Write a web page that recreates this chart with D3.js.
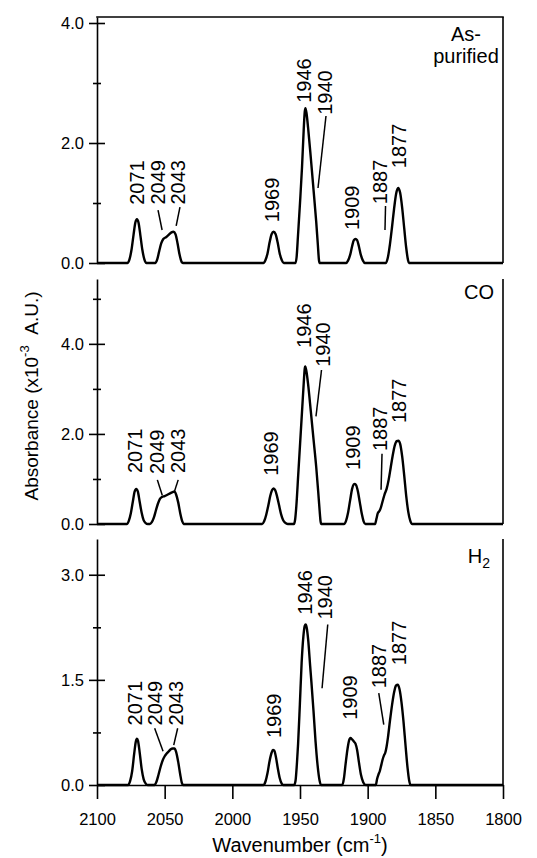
<!DOCTYPE html>
<html><head><meta charset="utf-8">
<script src="https://cdn.jsdelivr.net/npm/d3@7"></script>
<style>
body{margin:0;background:#fff}
svg{display:block}
text{font-family:"Liberation Sans",Arial,Helvetica,sans-serif;fill:#000}
</style>
</head><body>
<svg id="chart" width="537" height="858"></svg>
<script>
// ---------------- DATA ----------------
const wavenumberTicks = [2100, 2050, 2000, 1950, 1900, 1850, 1800];
const wavenumberDomain = [2100, 1800];

const panelNames = ["As-purified", "CO", "H2"];
const yDomainMax = [4.1, 5.44, 3.51];
const yMajorTicks = [[0, 2, 4], [0, 2, 4], [0, 1.5, 3]];
const yMinorTicks = [[1, 3], [1, 3, 5], [0.75, 2.25]];

// spectra: [wavenumber (cm-1), absorbance (x10^-3 A.U.)]
const spectrumAsPurified = [
  [2100,0],[2077.5,0],[2076,0.06],[2074.5,0.22],[2073,0.47],[2071.7,0.67],[2070.5,0.73],[2069.3,0.67],[2068,0.47],[2066.5,0.22],[2065,0.06],[2063.5,0],
  [2057,0],[2055.5,0.06],[2054,0.2],[2052.5,0.33],[2051,0.4],[2049,0.43],[2047,0.47],[2045,0.51],[2043.5,0.52],[2042,0.48],[2040.5,0.33],[2039,0.14],[2037.5,0.02],[2036.5,0],
  [1977,0],[1975.5,0.05],[1974,0.16],[1972.5,0.34],[1971,0.48],[1969.5,0.52],[1968,0.48],[1966.5,0.34],[1965,0.16],[1963.5,0.05],[1962,0],
  [1953.3,0],[1952.5,0.1],[1951.5,0.45],[1950,1.0],[1948.5,1.6],[1947.3,2.2],[1946.5,2.52],[1946,2.58],[1945.2,2.5],[1944,2.25],[1942,1.75],[1940,1.22],[1938,0.68],[1936.8,0.3],[1936,0.05],[1935.5,0],
  [1916,0],[1914.5,0.04],[1913,0.13],[1911.5,0.28],[1910.2,0.38],[1909,0.4],[1907.8,0.38],[1906.5,0.28],[1905,0.13],[1903.5,0.04],[1902,0],
  [1886.5,0],[1885,0.1],[1883.5,0.32],[1882,0.6],[1880.5,0.9],[1879,1.15],[1877.5,1.25],[1876,1.17],[1874.5,0.92],[1873,0.58],[1871.5,0.25],[1870.2,0.05],[1869.5,0],
  [1800,0]
];
const spectrumCO = [
  [2100,0],[2078,0],[2076.5,0.07],[2075,0.24],[2073.5,0.5],[2072.2,0.72],[2071,0.78],[2069.8,0.72],[2068.5,0.5],[2067,0.25],[2065.5,0.08],[2064,0.02],[2062.5,0],[2061,0],
  [2059.5,0.04],[2058,0.14],[2056.5,0.3],[2055,0.45],[2053.5,0.56],[2052,0.6],[2050,0.62],[2048,0.65],[2046,0.68],[2044,0.71],[2042.8,0.72],[2041.5,0.65],[2040,0.48],[2038.5,0.24],[2037,0.06],[2036,0],
  [1978,0],[1976.5,0.06],[1975,0.2],[1973.5,0.4],[1972,0.62],[1970.7,0.75],[1969.5,0.79],[1968.3,0.75],[1967,0.62],[1965.5,0.42],[1964,0.22],[1962.5,0.09],[1961,0.03],[1959,0],
  [1954.5,0],[1953.6,0.1],[1952.7,0.4],[1951.3,1.1],[1949.8,1.85],[1948.3,2.6],[1947.2,3.15],[1946.5,3.45],[1946.1,3.5],[1945.2,3.38],[1944,3.1],[1942,2.5],[1940,1.88],[1938,1.26],[1936.5,0.7],[1935.5,0.3],[1934.8,0.06],[1934.3,0],
  [1917.5,0],[1916,0.07],[1914.5,0.25],[1913,0.52],[1911.5,0.78],[1910.3,0.88],[1909.5,0.89],[1908.5,0.86],[1907.2,0.72],[1905.8,0.48],[1904.3,0.22],[1903,0.06],[1901.7,0],
  [1894.5,0],[1893.5,0.12],[1892.5,0.24],[1891.5,0.28],[1890.5,0.34],[1889,0.5],[1887.5,0.66],[1886,0.78],[1884.5,0.98],[1883,1.25],[1881.5,1.52],[1880,1.74],[1878.5,1.84],[1877.3,1.85],[1876,1.78],[1874.5,1.5],[1873,1.08],[1871.5,0.62],[1870,0.27],[1868.5,0.07],[1867,0],
  [1800,0]
];
const spectrumH2 = [
  [2100,0],[2077,0],[2075.5,0.06],[2074,0.2],[2072.5,0.45],[2071.3,0.62],[2070.5,0.66],[2069.7,0.63],[2068.5,0.47],[2067,0.23],[2065.5,0.08],[2064,0.02],[2062.5,0],
  [2057.5,0],[2056,0.05],[2054.5,0.15],[2053,0.26],[2051.5,0.35],[2050,0.41],[2048.5,0.45],[2047,0.48],[2045.5,0.51],[2044,0.52],[2042.8,0.52],[2041.5,0.47],[2040,0.33],[2038.5,0.15],[2037.3,0.03],[2036.5,0],
  [1977,0],[1975.5,0.05],[1974,0.17],[1972.5,0.34],[1971,0.46],[1970,0.5],[1969,0.49],[1967.8,0.4],[1966.5,0.25],[1965,0.1],[1963.5,0.02],[1962.5,0],
  [1954.3,0],[1953.3,0.06],[1952.3,0.3],[1951.4,0.59],[1950.1,1.15],[1948.8,1.74],[1947.5,2.12],[1946.5,2.27],[1945.8,2.29],[1945,2.24],[1944,2.08],[1942.5,1.7],[1941.5,1.45],[1940,1.05],[1938.5,0.62],[1937,0.28],[1935.5,0.06],[1934.5,0],
  [1918.7,0],[1917.5,0.1],[1916.3,0.3],[1915,0.5],[1913.8,0.63],[1912.7,0.67],[1911.5,0.65],[1910.2,0.62],[1909,0.59],[1907.8,0.5],[1906.5,0.33],[1905,0.15],[1903.3,0.04],[1901.5,0],
  [1894,0],[1893,0.09],[1892,0.15],[1891,0.2],[1890,0.28],[1889,0.36],[1888,0.42],[1887,0.46],[1886,0.55],[1885,0.68],[1883.5,0.92],[1882,1.14],[1880.5,1.32],[1879,1.42],[1877.8,1.43],[1876.5,1.37],[1875,1.18],[1873.5,0.9],[1872,0.56],[1870.5,0.24],[1869.3,0.06],[1868.3,0],
  [1800,0]
];

// peak labels: [text, wavenumber, absorbance at text start]
const labelsAsPurified = [["2071",2070.8,0.97],["2049",2055.2,0.975],["2043",2040.2,0.975],["1969",1970.7,0.68],["1946",1947,2.67],["1940",1931.5,2.47],["1909",1911.3,0.55],["1887",1890.9,0.98],["1877",1876.5,1.58]];
const labelsCO = [["2071",2071.6,1.13],["2049",2055.3,1.11],["2043",2040.1,1.13],["1969",1971.4,1.07],["1946",1947,3.91],["1940",1933.3,3.49],["1909",1911.1,1.2],["1887",1890.9,1.62],["1877",1876.8,2.24]];
const labelsH2 = [["2071",2071.6,0.85],["2049",2056.9,0.85],["2043",2041.8,0.85],["1969",1969.4,0.67],["1946",1946.3,2.43],["1940",1931.3,2.36],["1909",1913,0.93],["1887",1891.3,1.38],["1877",1877,1.71]];

// leader lines: [w1, a1, w2, a2]
const leadersAsPurified = [[2054.9,0.88,2051.9,0.55],[2038.7,0.93,2041.5,0.62],[1930.8,2.45,1936.7,1.25],[1886.8,0.95,1887.2,0.55]];
const leadersCO = [[2055.4,0.98,2051.8,0.64],[2040,0.98,2042.7,0.73],[1934.1,3.42,1938.2,2.39],[1889.4,1.56,1890.1,0.76]];
const leadersH2 = [[2057.4,0.81,2051.2,0.48],[2040.4,0.81,2043.3,0.57],[1929.5,2.29,1933.7,1.38],[1891.8,1.31,1888.1,0.86]];

const spectra = [spectrumAsPurified, spectrumCO, spectrumH2];
const labels = [labelsAsPurified, labelsCO, labelsH2];
const leaders = [leadersAsPurified, leadersCO, leadersH2];

// ---------------- LAYOUT ----------------
const X0 = 97, X1 = 503;
const panelBox = [[17, 263], [279, 524], [539, 785]]; // [top, baseline]
const svg = d3.select("#chart");
const x = d3.scaleLinear().domain(wavenumberDomain).range([X0, X1]);
const fmt = d3.format(".1f");
const AX = 1.6;

function styleAxis(g, fs) {
  g.attr("font-family", null).attr("font-size", null);
  g.selectAll("line,path").attr("stroke", "#000").attr("stroke-width", AX);
  g.selectAll("text").style("font-size", fs + "px").attr("fill", "#000");
}

panelBox.forEach((box, i) => {
  const y = d3.scaleLinear().domain([0, yDomainMax[i]]).range([box[1], box[0]]);

  // left axis major
  const gl = svg.append("g").attr("transform", `translate(${X0},0)`)
    .call(d3.axisLeft(y).tickValues(yMajorTicks[i]).tickSize(8).tickSizeOuter(0).tickPadding(5).tickFormat(fmt));
  styleAxis(gl, 16.5);
  const gr = svg.append("g").attr("transform", `translate(${X0},0)`)
    .call(d3.axisRight(y).tickValues(yMajorTicks[i]).tickSize(8).tickFormat(""));
  gr.select(".domain").remove(); styleAxis(gr, 16);
  [d3.axisLeft, d3.axisRight].forEach(ax => {
    const gm = svg.append("g").attr("transform", `translate(${X0},0)`)
      .call(ax(y).tickValues(yMinorTicks[i]).tickSize(4).tickFormat(""));
    gm.select(".domain").remove(); styleAxis(gm, 16);
  });

  // right border
  svg.append("line").attr("x1", X1).attr("x2", X1).attr("y1", y(0)).attr("y2", y(yDomainMax[i]))
    .attr("stroke", "#000").attr("stroke-width", AX);
  if (i === 0) {
    svg.append("line").attr("x1", X0).attr("x2", X1).attr("y1", y(yDomainMax[i])).attr("y2", y(yDomainMax[i]))
      .attr("stroke", "#000").attr("stroke-width", AX).attr("stroke-linecap", "square");
  }

  // bottom axis for last panel
  if (i === 2) {
    const gb = svg.append("g").attr("transform", `translate(0,${box[1]})`)
      .call(d3.axisBottom(x).tickValues(wavenumberTicks).tickSize(14).tickSizeOuter(0).tickPadding(14).tickFormat(d3.format("d")));
    styleAxis(gb, 16.5);
  }

  // spectrum
  const line = d3.line().x(d => x(d[0])).y(d => y(d[1])).curve(d3.curveMonotoneX);
  svg.append("path").datum(spectra[i]).attr("d", line)
    .attr("fill", "none").attr("stroke", "#000").attr("stroke-width", 2.4).attr("stroke-linejoin", "round");

  // labels
  svg.append("g").selectAll("text").data(labels[i]).join("text")
    .attr("transform", d => `translate(${x(d[1])},${y(d[2])}) rotate(-90)`)
    .attr("dy", "0.35em").attr("text-anchor", "start").style("font-size", "20px")
    .text(d => d[0]);

  // leaders
  svg.append("g").selectAll("line").data(leaders[i]).join("line")
    .attr("x1", d => x(d[0])).attr("y1", d => y(d[1]))
    .attr("x2", d => x(d[2])).attr("y2", d => y(d[3]))
    .attr("stroke", "#000").attr("stroke-width", 1.5);
});

// panel names
const nm = svg.append("g").style("font-size", "20px");
nm.append("text").attr("x", 466).attr("y", 41).attr("text-anchor", "middle").text(panelNames[0].split("-")[0] + "-");
nm.append("text").attr("x", 466).attr("y", 63).attr("text-anchor", "middle").text(panelNames[0].split("-")[1]);
nm.append("text").attr("x", 494).attr("y", 299).attr("text-anchor", "end").text(panelNames[1]);
const h2 = nm.append("text").attr("x", 490).attr("y", 563).attr("text-anchor", "end");
h2.append("tspan").text(panelNames[2][0]);
h2.append("tspan").attr("dy", 5).style("font-size", "14px").text(panelNames[2][1]);

// axis titles
const xt = svg.append("text").attr("x", 300).attr("y", 852).attr("text-anchor", "middle").style("font-size", "20px");
xt.append("tspan").text("Wavenumber (cm");
xt.append("tspan").attr("dy", -9).style("font-size", "13px").text("-1");
xt.append("tspan").attr("dy", 9).text(")");

const yt = svg.append("text").attr("transform", "translate(38,396) rotate(-90)").attr("text-anchor", "middle").style("font-size", "19px");
yt.append("tspan").text("Absorbance (x10");
yt.append("tspan").attr("dy", -9).style("font-size", "13px").text("-3");
yt.append("tspan").attr("dy", 9).text("\u00a0\u00a0A.U.)");
</script>
</body></html>
